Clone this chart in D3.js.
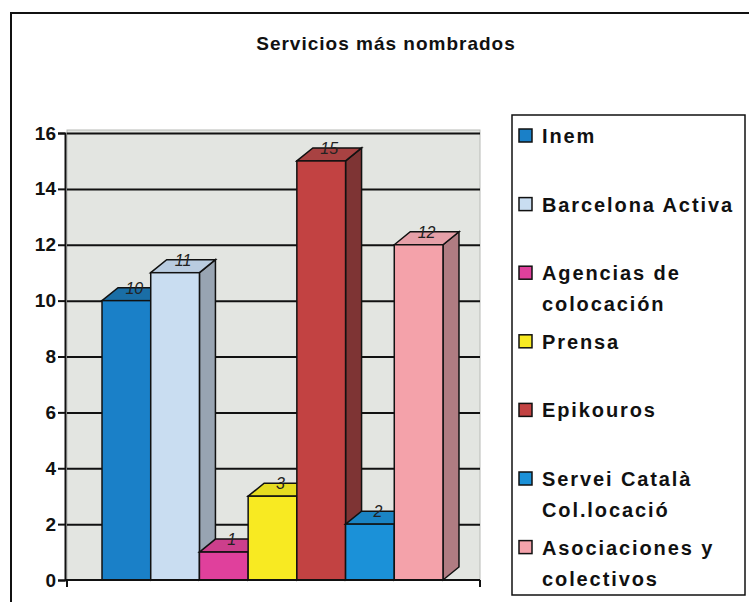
<!DOCTYPE html>
<html>
<head>
<meta charset="utf-8">
<script src="https://cdn.jsdelivr.net/npm/d3@7"></script>
<style>
  body { margin: 0; background: #fff; }
  svg text { font-family: "Liberation Sans", Arial, sans-serif; }
</style>
</head>
<body>
<div id="chart"></div>
<script>
// Chart data
let categories = ["Inem", "Barcelona Activa", "Agencias de colocación", "Prensa",
                  "Epikouros", "Servei Català Col.locació", "Asociaciones y colectivos"];
let values = [10, 11, 1, 3, 15, 2, 12];
let legendLines = [["Inem"], ["Barcelona Activa"], ["Agencias de", "colocación"], ["Prensa"],
                   ["Epikouros"], ["Servei Català", "Col.locació"], ["Asociaciones y", "colectivos"]];
let yTicks = [0, 2, 4, 6, 8, 10, 12, 14, 16];

// Colours: front, top, side
let frontColors = ["#1a80c8", "#c9ddf1", "#e0409c", "#f8ea22", "#c24242", "#1b91d8", "#f4a2aa"];
let topColors   = ["#1a6ea6", "#b9cce0", "#cc3f8c", "#e6dc20", "#a84242", "#1a84c4", "#e6a0a8"];
let sideColors  = ["#115a88", "#98a4b2", "#a03072", "#b0a618", "#7e3434", "#116a9c", "#b07c82"];

let svgWidth = 749, svgHeight = 602;
let plot = { left: 65, right: 480, top: 130, bottom: 580 };
let depth = { dx: 16, dy: 13 };

let svg = d3.select('#chart')
            .append('svg')
            .attr('width', svgWidth)
            .attr('height', svgHeight);

// Outer frame (top and left edges only are visible)
svg.append('path')
    .attr('d', 'M11,602 L11,13 L749,13')
    .attr('fill', 'none')
    .attr('stroke', '#111')
    .attr('stroke-width', 2);

// Title
svg.append('text')
    .attr('x', 386).attr('y', 50)
    .attr('text-anchor', 'middle')
    .attr('font-size', 19)
    .attr('font-weight', 'bold')
    .attr('letter-spacing', 1)
    .attr('fill', '#111')
    .text('Servicios más nombrados');

// Scales
let xScale = d3.scaleBand()
                .domain(categories)
                .range([plot.left, plot.right])
                .paddingInner(0)
                .paddingOuter(0.76);
let yScale = d3.scaleLinear()
                .domain([0, 16])
                .range([plot.bottom, 133]);

// Back wall
svg.append('rect')
    .attr('x', plot.left + 2).attr('y', plot.top)
    .attr('width', plot.right - plot.left - 2)
    .attr('height', plot.bottom - plot.top)
    .attr('fill', '#e3e5e1')
    .attr('stroke', '#b8bab6')
    .attr('stroke-width', 1);

// Gridlines
let grid = svg.append('g')
    .attr('transform', `translate(${plot.right}, 0)`)
    .call(d3.axisLeft(yScale).tickValues(yTicks).tickSize(plot.right - plot.left - 2).tickFormat(''));
grid.select('.domain').remove();
grid.selectAll('.tick line').attr('stroke', '#111').attr('stroke-width', 2);
grid.selectAll('.tick').filter(d => d === 0).remove();

// Bars (side, top, front), left to right
let bw = xScale.bandwidth();
let barGrp = svg.append('g');
categories.forEach((c, i) => {
    let x0 = xScale(c), x1 = x0 + bw;
    let yt = yScale(values[i]), yb = yScale(0);
    let g = barGrp.append('g');
    g.append('path')
        .attr('d', `M${x1},${yb} L${x1 + depth.dx},${yb - depth.dy} L${x1 + depth.dx},${yt - depth.dy} L${x1},${yt} Z`)
        .attr('fill', sideColors[i]).attr('stroke', '#111').attr('stroke-width', 1.5);
    g.append('path')
        .attr('d', `M${x0},${yt} L${x0 + depth.dx},${yt - depth.dy} L${x1 + depth.dx},${yt - depth.dy} L${x1},${yt} Z`)
        .attr('fill', topColors[i]).attr('stroke', '#111').attr('stroke-width', 1.5);
    g.append('rect')
        .attr('x', x0).attr('y', yt)
        .attr('width', bw).attr('height', yb - yt)
        .attr('fill', frontColors[i]).attr('stroke', '#111').attr('stroke-width', 1.5);
});

// Value labels on top faces
svg.selectAll('.val')
    .data(values)
    .enter()
    .append('text')
    .attr('class', 'val')
    .attr('x', (d, i) => xScale(categories[i]) + bw / 2 + depth.dx / 2)
    .attr('y', d => yScale(d) - 7)
    .attr('text-anchor', 'middle')
    .attr('font-size', 16)
    .attr('font-style', 'italic')
    .attr('fill', '#222')
    .text(d => d);

// Floor line and end ticks
svg.append('line')
    .attr('x1', plot.left).attr('x2', plot.right)
    .attr('y1', plot.bottom).attr('y2', plot.bottom)
    .attr('stroke', '#111').attr('stroke-width', 2);
[plot.left + 2, plot.right].forEach(x => {
    svg.append('line')
        .attr('x1', x).attr('x2', x)
        .attr('y1', plot.bottom).attr('y2', plot.bottom + 7)
        .attr('stroke', '#111').attr('stroke-width', 2);
});

// Y axis
let yAxis = svg.append('g')
    .attr('transform', `translate(${plot.left}, 0)`)
    .call(d3.axisLeft(yScale).tickValues(yTicks).tickSize(7).tickPadding(2));
yAxis.select('.domain').attr('stroke', '#111').attr('stroke-width', 2);
yAxis.selectAll('.tick line').attr('stroke', '#111').attr('stroke-width', 2);
yAxis.selectAll('.tick text')
    .attr('font-size', 19)
    .attr('font-weight', 'bold')
    .attr('fill', '#111')
    .attr('font-family', '"Liberation Sans", Arial, sans-serif');

// Legend
let legend = svg.append('g');
legend.append('rect')
    .attr('x', 512).attr('y', 115)
    .attr('width', 233).attr('height', 480)
    .attr('fill', '#fff')
    .attr('stroke', '#111')
    .attr('stroke-width', 1.5);

let itemStep = 68.6;
legendLines.forEach((lines, i) => {
    let base = 143 + i * itemStep;
    legend.append('rect')
        .attr('x', 519).attr('y', base - 14)
        .attr('width', 13).attr('height', 13)
        .attr('fill', frontColors[i])
        .attr('stroke', '#111').attr('stroke-width', 1.5);
    lines.forEach((t, j) => {
        legend.append('text')
            .attr('x', 542).attr('y', base + j * 31)
            .attr('font-size', 20)
            .attr('font-weight', 'bold')
            .attr('letter-spacing', 1.9)
            .attr('fill', '#111')
            .text(t);
    });
});
</script>
</body>
</html>
